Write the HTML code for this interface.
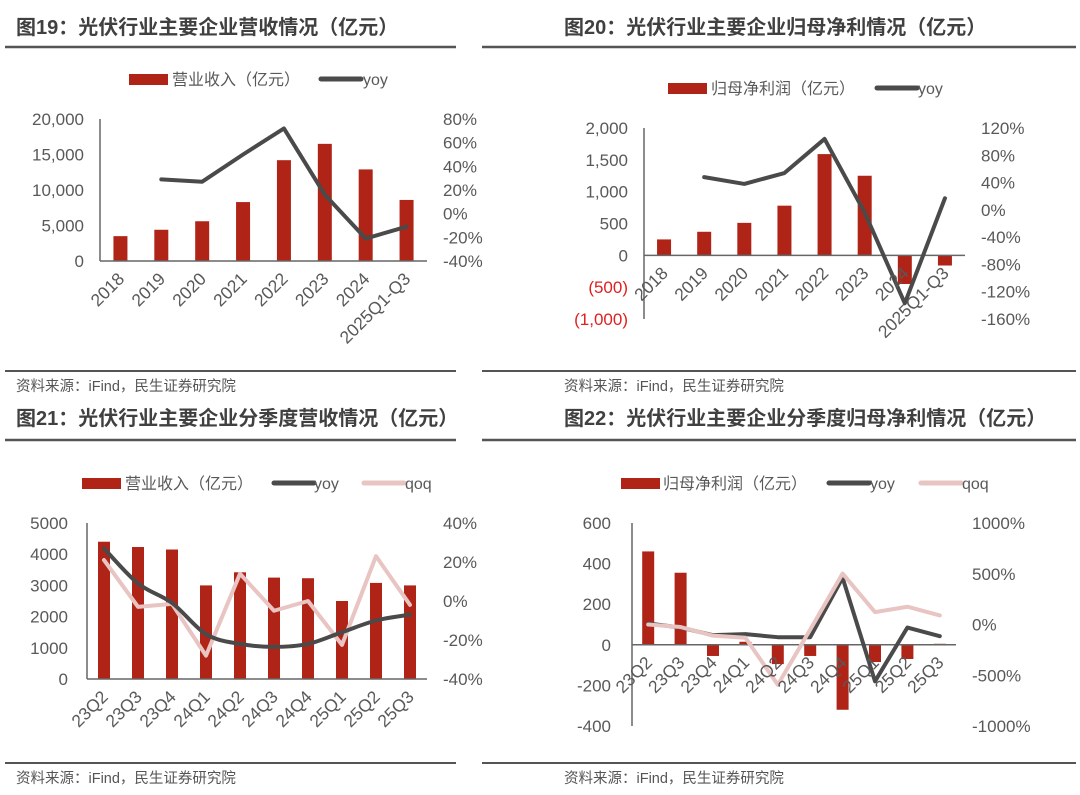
<!DOCTYPE html>
<html><head><meta charset="utf-8">
<style>
body{margin:0;background:#fff;}
svg{display:block;font-family:"Liberation Sans","Noto Sans CJK SC",sans-serif;}
</style></head>
<body>
<svg id="s" width="1080" height="795" viewBox="0 0 1080 795">
<g font-weight="bold" font-size="20" fill="#404040">
<text x="16" y="34">图19：光伏行业主要企业营收情况（亿元）</text>
<text x="564" y="34">图20：光伏行业主要企业归母净利情况（亿元）</text>
<text x="16" y="425">图21：光伏行业主要企业分季度营收情况（亿元）</text>
<text x="564" y="425">图22：光伏行业主要企业分季度归母净利情况（亿元）</text>
</g>
<g stroke="#555" stroke-width="2.5">
<line x1="5" y1="47" x2="456" y2="47"/><line x1="482" y1="47" x2="1076" y2="47"/>
<line x1="5" y1="371" x2="456" y2="371" stroke-width="2"/><line x1="482" y1="371" x2="1076" y2="371" stroke-width="2"/>
<line x1="5" y1="440" x2="456" y2="440"/><line x1="482" y1="440" x2="1076" y2="440"/>
<line x1="5" y1="763" x2="456" y2="763" stroke-width="2"/><line x1="482" y1="763" x2="1076" y2="763" stroke-width="2"/>
</g>
<g font-size="14.5" fill="#555">
<text x="16" y="391">资料来源：iFind，民生证券研究院</text>
<text x="564" y="391">资料来源：iFind，民生证券研究院</text>
<text x="16" y="783">资料来源：iFind，民生证券研究院</text>
<text x="564" y="783">资料来源：iFind，民生证券研究院</text>
</g>
<g id="charts"></g>
</svg>
<script>
// ---- chart data ----
const cats1 = ["2018","2019","2020","2021","2022","2023","2024","2025Q1-Q3"];
const rev1 = [3500,4400,5600,8300,14200,16500,12900,8600];
const yoy1 = [null,29,27,50,72,16,-21,-11];
const leftTicks1 = [0,5000,10000,15000,20000];
const rightTicks1 = [-40,-20,0,20,40,60,80];

const cats2 = ["2018","2019","2020","2021","2022","2023","2024","2025Q1-Q3"];
const np2 = [250,370,510,780,1590,1250,-450,-160];
const yoy2 = [null,48,38,54,104,-4,-137,17];
const leftTicks2 = [-1000,-500,0,500,1000,1500,2000];
const rightTicks2 = [-160,-120,-80,-40,0,40,80,120];

const cats3 = ["23Q2","23Q3","23Q4","24Q1","24Q2","24Q3","24Q4","25Q1","25Q2","25Q3"];
const rev3 = [4400,4230,4150,3000,3420,3250,3230,2500,3080,3000];
const yoy3 = [27,9,-1,-17,-22,-23.5,-22,-16,-10,-7];
const qoq3 = [21,-3,-1.5,-28,14,-5,0,-22.5,23,-2];
const leftTicks3 = [0,1000,2000,3000,4000,5000];
const rightTicks3 = [-40,-20,0,20,40];

const cats4 = ["23Q2","23Q3","23Q4","24Q1","24Q2","24Q3","24Q4","25Q1","25Q2","25Q3"];
const np4 = [460,355,-55,15,-95,-55,-320,-85,-70,5];
const yoy4 = [10,-30,-105,-95,-125,-125,460,-560,-30,-115];
const qoq4 = [0,-25,-110,-130,-594,-50,502,122,175,89];
const leftTicks4 = [-400,-200,0,200,400,600];
const rightTicks4 = [-1000,-500,0,500,1000];

const NS="http://www.w3.org/2000/svg";
const root=document.getElementById('charts');
function mk(tag,attrs,parent){const e=document.createElementNS(NS,tag);for(const k in attrs)e.setAttribute(k,attrs[k]);(parent||root).appendChild(e);return e;}
function fmtComma(v){return v.toLocaleString('en-US');}
function fmtParen(v){return v<0?'('+fmtComma(-v)+')':fmtComma(v);}

function chart(cfg){
  const g=mk('g',{});
  
  
  const {x0,x1,yTop,yBot,lmin,lmax,rmin,rmax}=cfg;
  const ly=v=>yBot-(v-lmin)/(lmax-lmin)*(yBot-yTop);
  const ry=v=>yBot-(v-rmin)/(rmax-rmin)*(yBot-yTop);
  const n=cfg.cats.length, step=(x1-x0)/n;
  const cx=i=>x0+step*(i+0.5);
  cfg.lt.forEach(v=>{
    const t=mk('text',{x:cfg.lx,y:ly(v)+6,'text-anchor':'end','font-size':17,fill:(v<0&&cfg.redNeg)?'#e02020':'#595959'},g);
    
    
    t.textContent=cfg.lf(v);
  });
  cfg.rt.forEach(v=>{
    const t=mk('text',{x:cfg.rx,y:ry(v)+6,'text-anchor':'start','font-size':17,fill:'#595959'},g);
    
    
    t.textContent=v+'%';
  });
  const z=ly(0);
  cfg.bars.forEach((v,i)=>{
    const y=ly(v);
    const r=mk('rect',{x:cx(i)-cfg.bw/2,y:Math.min(y,z),width:cfg.bw,height:Math.abs(z-y),fill:'#b02418'},g);
    
    
  });
  const ya=mk('line',{x1:x0,y1:yTop,x2:x0,y2:yBot,stroke:'#666','stroke-width':1.5},g);
  
  
  const xa=mk('line',{x1:x0,y1:z,x2:x1,y2:z,stroke:'#666','stroke-width':1.5},g);
  
  
  cfg.lines.forEach(L=>{
    let d='';
    const pts=[];
    L.data.forEach((v,i)=>{if(v!==null)pts.push([cx(i),ry(v)]);});
    if(L.smooth){
      d='M'+pts[0].join(',');
      for(let i=0;i<pts.length-1;i++){
        const p0=pts[Math.max(0,i-1)],p1=pts[i],p2=pts[i+1],p3=pts[Math.min(pts.length-1,i+2)];
        const c1=[p1[0]+(p2[0]-p0[0])/6,p1[1]+(p2[1]-p0[1])/6];
        const c2=[p2[0]-(p3[0]-p1[0])/6,p2[1]-(p3[1]-p1[1])/6];
        d+=' C'+c1.join(',')+' '+c2.join(',')+' '+p2.join(',');
      }
    } else d=pts.map((p,i)=>(i?'L':'M')+p.join(',')).join(' ');
    const p=mk('path',{d:d,fill:'none',stroke:L.color,'stroke-width':4,'stroke-linejoin':'round','stroke-linecap':'round'},g);
    
    
  });
  const ay=cfg.labAtZero?z:yBot;
  cfg.cats.forEach((c,i)=>{
    const t=mk('text',{'text-anchor':'end','font-size':17.5,fill:'#595959',transform:`translate(${cx(i)+5},${ay+19}) rotate(-45)`},g);
    
    
    t.textContent=c;
  });
  cfg.legend.forEach(Lg=>{
    let m;
    if(Lg.type==='bar') m=mk('rect',{x:Lg.x,y:cfg.legY-5,width:39,height:11,fill:'#b02418'},g);
    else m=mk('line',{x1:Lg.x,y1:cfg.legY,x2:Lg.x+40,y2:cfg.legY,stroke:Lg.color,'stroke-width':5,'stroke-linecap':'round'},g);
    
    
    const t=mk('text',{x:Lg.tx,y:cfg.legY+6,'font-size':16,fill:'#595959'},g);
    
    
    t.textContent=Lg.label;
  });
}
const DK='#4a4a4a', PK='#e8c4c2';
chart({name:'chart-fig19',cats:cats1,bars:rev1,x0:100,x1:427,yTop:119,yBot:261,lmin:0,lmax:20000,rmin:-40,rmax:80,lt:leftTicks1,rt:rightTicks1,lf:fmtComma,lx:84,rx:443,bw:14,
  lines:[{data:yoy1,color:DK,name:'yoy-line'}],legY:79,
  legend:[{type:'bar',x:129,tx:172,label:'营业收入（亿元）'},{type:'line',x:321,color:DK,tx:363,label:'yoy'}]});
chart({name:'chart-fig20',cats:cats2,bars:np2,x0:644,x1:965,yTop:128,yBot:319,lmin:-1000,lmax:2000,rmin:-160,rmax:120,lt:leftTicks2,rt:rightTicks2,lf:fmtParen,redNeg:true,lx:628,rx:981,bw:14,labAtZero:true,
  lines:[{data:yoy2,color:DK,name:'yoy-line'}],legY:88,
  legend:[{type:'bar',x:668,tx:711,label:'归母净利润（亿元）'},{type:'line',x:877,color:DK,tx:918,label:'yoy'}]});
chart({name:'chart-fig21',cats:cats3,bars:rev3,x0:87,x1:427,yTop:523,yBot:679,lmin:0,lmax:5000,rmin:-40,rmax:40,lt:leftTicks3,rt:rightTicks3,lf:v=>String(v),lx:68,rx:443,bw:12,
  lines:[{data:qoq3,color:PK,name:'qoq-line'},{data:yoy3,color:DK,name:'yoy-line',smooth:true}],legY:483,
  legend:[{type:'bar',x:82,tx:125,label:'营业收入（亿元）'},{type:'line',x:274,color:DK,tx:314,label:'yoy'},{type:'line',x:364,color:PK,tx:405,label:'qoq'}]});
chart({name:'chart-fig22',cats:cats4,bars:np4,x0:632,x1:956,yTop:523,yBot:726,lmin:-400,lmax:600,rmin:-1000,rmax:1000,lt:leftTicks4,rt:rightTicks4,lf:v=>String(v),lx:611,rx:972,bw:12,labAtZero:true,
  lines:[{data:yoy4,color:DK,name:'yoy-line'},{data:qoq4,color:PK,name:'qoq-line'}],legY:483,
  legend:[{type:'bar',x:621,tx:663,label:'归母净利润（亿元）'},{type:'line',x:829,color:DK,tx:870,label:'yoy'},{type:'line',x:921,color:PK,tx:962,label:'qoq'}]});
</script>
</body></html>
